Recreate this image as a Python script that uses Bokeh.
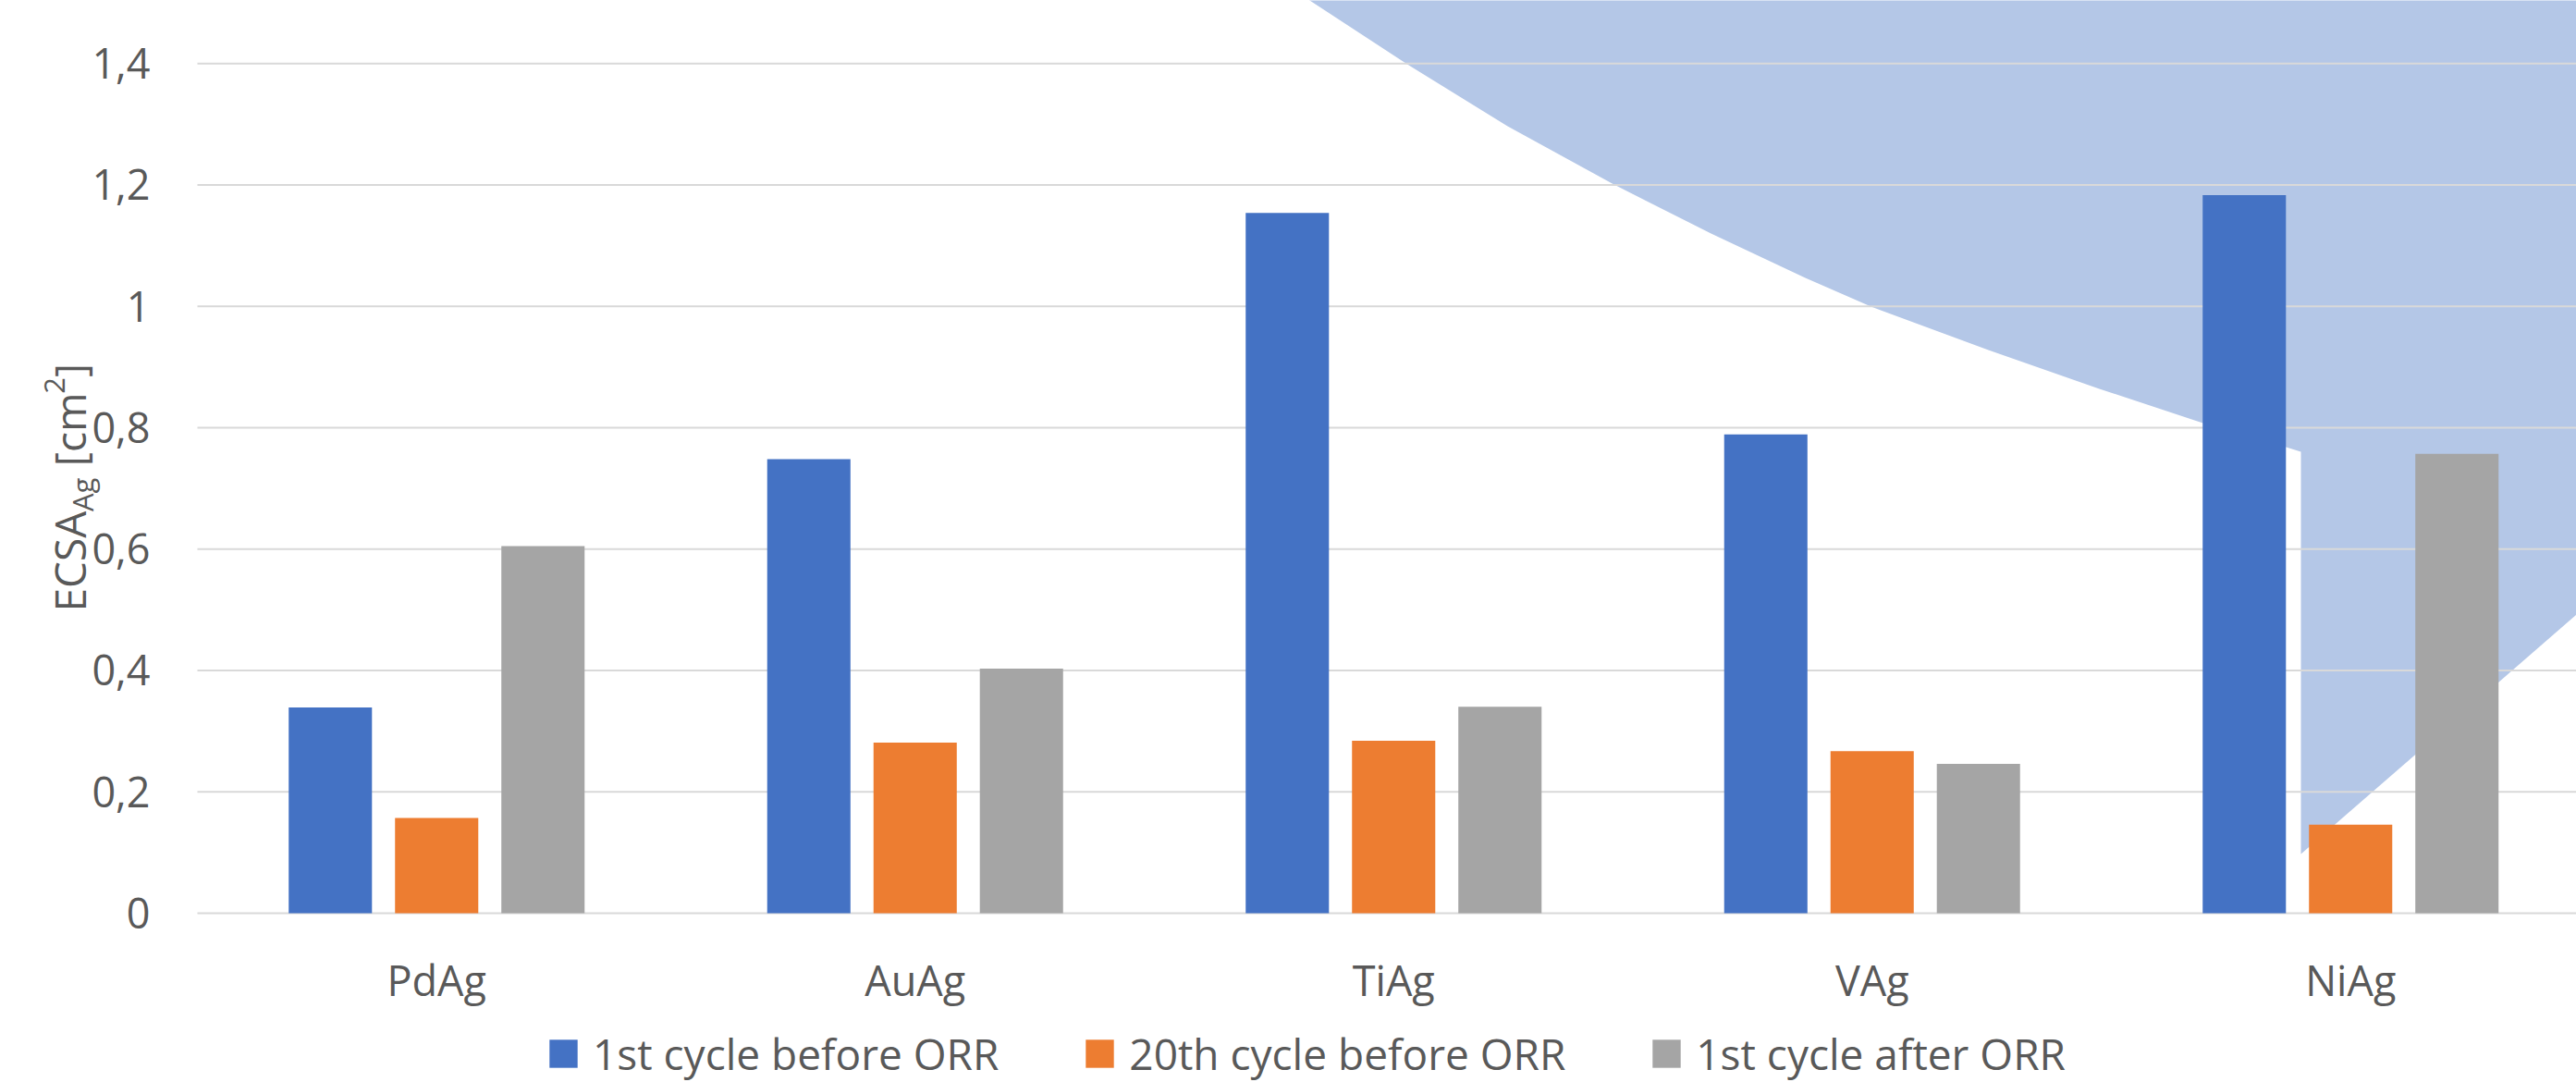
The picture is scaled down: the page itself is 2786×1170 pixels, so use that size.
import math
from bokeh.plotting import figure
from bokeh.models import ColumnDataSource, Range1d, Legend, LegendItem, Label
from bokeh.core.properties import value
from bokeh.transform import dodge
from bokeh.embed import file_html
from bokeh.resources import INLINE

# ---------------- data ----------------
categories = ["PdAg", "AuAg", "TiAg", "VAg", "NiAg"]
first_cycle_before_orr = [0.339, 0.748, 1.154, 0.789, 1.183]
twentieth_cycle_before_orr = [0.157, 0.281, 0.284, 0.267, 0.146]
first_cycle_after_orr = [0.605, 0.403, 0.340, 0.246, 0.757]
series_names = ["1st cycle before ORR", "20th cycle before ORR", "1st cycle after ORR"]
y_ticks = [0, 0.2, 0.4, 0.6, 0.8, 1.0, 1.2, 1.4]
y_tick_labels = [("%g" % v).replace(".", ",") for v in y_ticks]

# ---------------- layout / style ----------------
W, H = 2786, 1170
PLOT_LEFT = 213              # page x of the plot area's left edge (category -0.5)
PLOT_BOTTOM = 987            # page y of the value 0
PX_PER_X = 517.5             # pixels per category
PX_PER_Y = 656.3             # pixels per unit of ECSA
TXT = "#595959"
FONT = "Open Sans"
GRID = "#D9D9D9"
colors = ["#4472C4", "#ED7D31", "#A5A5A5"]
BAR_W = 0.174
STEP = 0.2222

def px_to_x(px):
    return -0.5 + (px - PLOT_LEFT) / PX_PER_X

def px_to_y(py):
    return (PLOT_BOTTOM - py) / PX_PER_Y

X_PLOT_START = -0.5
X_END = px_to_x(W)

source = ColumnDataSource(dict(
    idx=list(range(len(categories))),
    cat=categories,
    s0=first_cycle_before_orr,
    s1=twentieth_cycle_before_orr,
    s2=first_cycle_after_orr,
))

# frame covers the whole canvas; axes are drawn as glyphs so nothing is clipped
p = figure(width=W, height=H, output_backend="svg", toolbar_location=None,
           x_range=Range1d(px_to_x(0), X_END), y_range=Range1d(px_to_y(H), px_to_y(0)),
           x_axis_location=None, y_axis_location=None, min_border=0)
p.grid.visible = False
p.background_fill_color = "white"
p.border_fill_color = "white"
p.outline_line_color = None

# decorative light-blue shape present in the reference image (behind the grid)
shape_px = [(1402, -10), (1416, 0), (1520, 68), (1630, 136), (1745, 199), (1850, 252),
            (1952, 300), (2023, 331), (2150, 378), (2270, 420), (2382, 457), (2472, 483),
            (2488, 488), (2488, 923), (2800, 652), (2800, -10)]
p.patch([px_to_x(a) for a, b in shape_px], [px_to_y(b) for a, b in shape_px],
        fill_color="#B4C7E7", line_color=None, level="image")

# horizontal gridlines (the one at 0 doubles as the category axis line)
p.segment(x0=[X_PLOT_START] * len(y_ticks), x1=[X_END + 1] * len(y_ticks),
          y0=y_ticks, y1=y_ticks, line_color=GRID, line_width=2, level="underlay")

renderers = []
for k, (field, col) in enumerate(zip(["s0", "s1", "s2"], colors)):
    r = p.vbar(x=dodge("idx", (k - 1) * STEP), top=field, width=BAR_W, bottom=0,
               source=source, fill_color=col, line_color=None)
    renderers.append(r)

# value-axis tick labels
p.text(x=[px_to_x(162)] * len(y_ticks), y=y_ticks, text=y_tick_labels,
       text_align="right", text_baseline="middle", text_color=TXT,
       text_font=value(FONT), text_font_size="45px")

# category labels
p.text(x="idx", y=px_to_y(1059), text="cat", source=source,
       text_align="center", text_baseline="alphabetic", text_color=TXT,
       text_font=value(FONT), text_font_size="45px")

# legend
legend = Legend(
    items=[LegendItem(label=n, renderers=[r]) for n, r in zip(series_names, renderers)],
    orientation="horizontal", location=(590, 0),
    glyph_width=38, glyph_height=38, label_standoff=13, spacing=90,
    padding=0, margin=0, border_line_color=None, background_fill_alpha=0,
    label_text_font=FONT, label_text_font_size="46px", label_text_color=TXT,
)
p.add_layout(legend, "center")

# rotated value-axis title: ECSA_Ag [cm^2]
BIG, SMALL = 46, 31
pieces = [
    ("ECSA", BIG, 74, 2.359),
    ("Ag", SMALL, 88, 1.189),
    ("[cm", BIG, 74, 1.703),
    ("2", SMALL, 58, 0.572),
    ("]", BIG, 74, 0.297),
]
pos = 661
for txt, size, xpx, w_em in pieces:
    if txt == "[cm":
        pos -= 0.26 * BIG  # the space before the bracket
    p.add_layout(Label(x=px_to_x(xpx), y=px_to_y(pos), text=txt, angle=math.pi / 2,
                       text_font=FONT, text_font_size=f"{size}px", text_color=TXT,
                       text_align="left", text_baseline="alphabetic"))
    pos -= w_em * size

open("out.html", "w").write(file_html(p, INLINE))
